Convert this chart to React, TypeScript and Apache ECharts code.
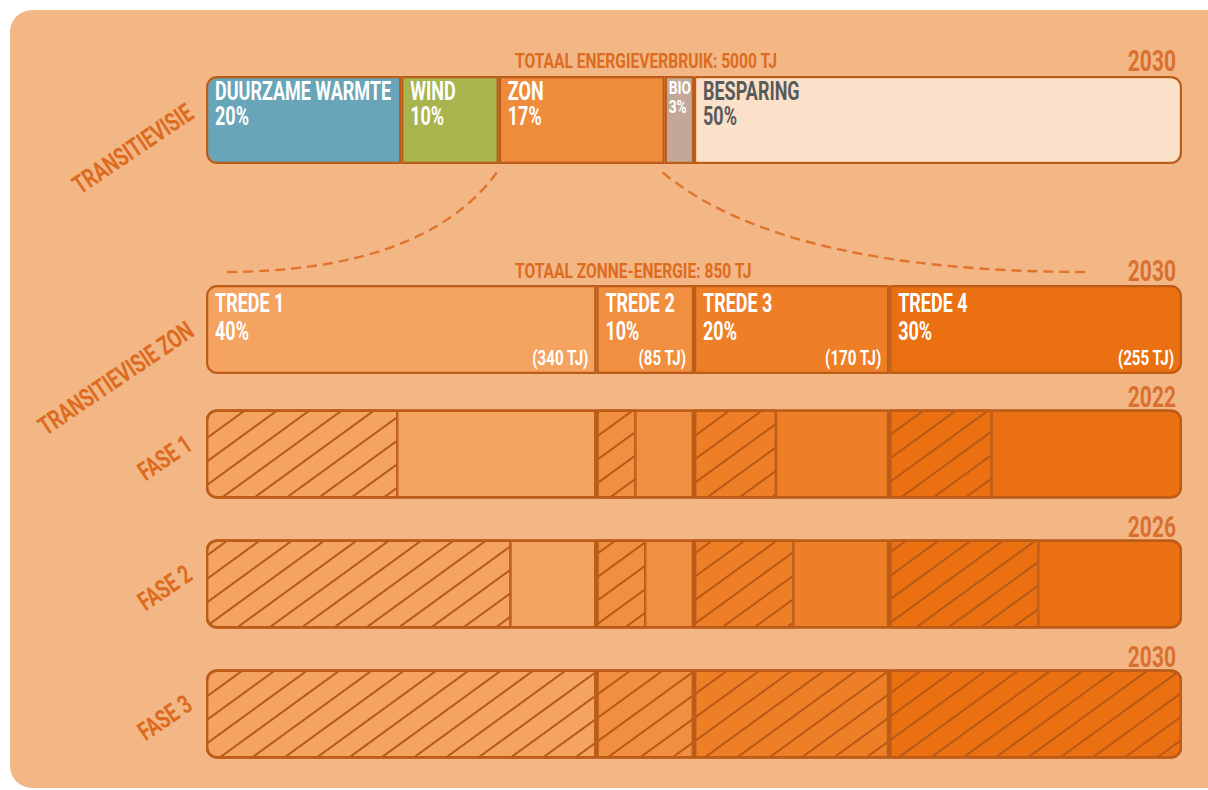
import React, { useEffect, useRef } from 'react';
import * as echarts from 'echarts';

// ---------- data ----------
const energyCategories = ['DUURZAME WARMTE', 'WIND', 'ZON', 'BIO', 'BESPARING'];
const energyShares = [20, 10, 17, 3, 50];
const totalEnergyTJ = 5000;
const visionYear = '2030';

const tredeNames = ['TREDE 1', 'TREDE 2', 'TREDE 3', 'TREDE 4'];
const tredeShares = [40, 10, 20, 30];
const tredeTJ = [340, 85, 170, 255];
const totalSolarTJ = 850;

const phaseNames = ['FASE 1', 'FASE 2', 'FASE 3'];
const phaseYears = ['2022', '2026', '2030'];
// share (%) of each trede realised at the end of the phase
const fase1Done = [49, 40, 42, 35];
const fase2Done = [78, 50, 51, 51];
const fase3Done = [100, 100, 100, 100];
const phaseDone = [fase1Done, fase2Done, fase3Done];

// ---------- style ----------
const FONT = "Roboto, 'Liberation Sans', sans-serif";
const SX = 0.72; // horizontal condensing of the bold font
const BORDER = '#BD5C19';
const PANEL = '#F2B785';
const ORANGE_TEXT = '#DD6B20';
const YEAR_TEXT = '#DA7030';
const energyColors = ['#68A5B8', '#A8B54F', '#EE8C3B', '#C3A899', '#FCE1CA'];
const energyLabelColors = ['#FFFFFF', '#FFFFFF', '#FFFFFF', '#FFFFFF', '#5A5A5A'];
const tredeColors = ['#F4A361', '#F18F40', '#EE7F27', '#EA7011'];
const HATCH = '#B75815';

const GRID_LEFT = 206;
const GRID_WIDTH = 976;
const BAR_H = 89;

function radiusFor(i: number, n: number): any {
  if (i === 0) return [10, 0, 0, 10];
  if (i === n - 1) return [0, 10, 10, 0];
  return 0;
}

function buildOption() {
  const series: any[] = [];

  // top bar: total energy vision
  energyCategories.forEach((name, i) => {
    series.push({
      type: 'bar',
      name,
      xAxisIndex: 0,
      yAxisIndex: 0,
      stack: 'energy',
      barWidth: BAR_H - 1,
      silent: true,
      data: [{ value: energyShares[i], itemStyle: { borderRadius: radiusFor(i, energyCategories.length) } }],
      itemStyle: { color: energyColors[i], borderColor: BORDER, borderWidth: 2.2 },
    });
  });

  // solar vision row
  tredeNames.forEach((name, i) => {
    series.push({
      type: 'bar',
      name,
      xAxisIndex: 1,
      yAxisIndex: 1,
      stack: 'zon',
      barWidth: BAR_H,
      silent: true,
      data: [{ value: tredeShares[i], itemStyle: { borderRadius: radiusFor(i, tredeNames.length) } }],
      itemStyle: { color: tredeColors[i], borderColor: BORDER, borderWidth: 2.2 },
    });
  });

  // phases
  const n = tredeNames.length;
  tredeNames.forEach((name, k) => {
    series.push({
      type: 'bar',
      name: name + ' gerealiseerd',
      xAxisIndex: 2,
      yAxisIndex: 2,
      stack: 'fase',
      barWidth: BAR_H,
      barGap: '-100%',
      silent: true,
      data: phaseDone.map((p) => {
        const v = (tredeShares[k] * p[k]) / 100;
        const isLast = k === n - 1 && p[k] >= 100;
        return {
          value: v,
          itemStyle: { borderRadius: k === 0 ? [10, 0, 0, 10] : isLast ? [0, 10, 10, 0] : 0 },
        };
      }),
      itemStyle: {
        color: tredeColors[k],
        borderColor: BORDER,
        borderWidth: 1.2,
        decal: {
          symbol: 'rect',
          symbolSize: 1,
          dashArrayX: [1, 0],
          dashArrayY: [2, 17],
          rotation: (-36 * Math.PI) / 180,
          color: HATCH,
        },
      },
    });
    series.push({
      type: 'bar',
      name: name + ' resterend',
      xAxisIndex: 2,
      yAxisIndex: 2,
      stack: 'fase',
      barWidth: BAR_H,
      barGap: '-100%',
      silent: true,
      data: phaseDone.map((p) => {
        const v = (tredeShares[k] * (100 - p[k])) / 100;
        if (v <= 0) return null;
        return { value: v, itemStyle: { borderRadius: k === n - 1 ? [0, 10, 10, 0] : 0 } };
      }),
      itemStyle: { color: tredeColors[k], borderColor: BORDER, borderWidth: 1.2 },
    });
  });
  tredeNames.forEach((name, k) => {
    series.push({
      type: 'bar',
      name: name + ' kader',
      xAxisIndex: 2,
      yAxisIndex: 2,
      stack: 'kader',
      barWidth: BAR_H,
      barGap: '-100%',
      silent: true,
      data: phaseDone.map(() => ({ value: tredeShares[k], itemStyle: { borderRadius: radiusFor(k, n) } })),
      itemStyle: { color: 'rgba(0,0,0,0)', borderColor: BORDER, borderWidth: 2.4 },
    });
  });

  const xAxis = [0, 1, 2].map((g) => ({ type: 'value', gridIndex: g, min: 0, max: 100, show: false }));
  const yAxis = [
    { type: 'category', gridIndex: 0, data: ['TRANSITIEVISIE'], show: false },
    { type: 'category', gridIndex: 1, data: ['TRANSITIEVISIE ZON'], show: false },
    { type: 'category', gridIndex: 2, data: phaseNames, inverse: true, show: false },
  ];
  const grid = [
    { left: GRID_LEFT, width: GRID_WIDTH, top: 76, height: 88 },
    { left: GRID_LEFT, width: GRID_WIDTH, top: 285, height: 89 },
    { left: GRID_LEFT, width: GRID_WIDTH, top: 389, height: 390 },
  ];

  return {
    animation: false,
    backgroundColor: '#FFFFFF',
    grid,
    xAxis,
    yAxis,
    series,
  };
}

let measureCtx: CanvasRenderingContext2D | null = null;
function measure(text: string, size: number): number {
  if (!measureCtx) measureCtx = document.createElement('canvas').getContext('2d');
  if (!measureCtx) return text.length * size * 0.6;
  measureCtx.font = `bold ${size}px ${FONT}`;
  return measureCtx.measureText(text).width;
}

function textEl(text: string, x: number, y: number, opts: any = {}) {
  const size = opts.size || 18;
  return {
    type: 'text',
    x,
    y,
    z: 100,
    rotation: opts.rotation || 0,
    scaleX: opts.scaleX || SX,
    silent: true,
    style: {
      text,
      fill: opts.color || ORANGE_TEXT,
      font: `bold ${size}px ${FONT}`,
      lineHeight: opts.lineHeight || size,
      align: opts.align || 'left',
      verticalAlign: opts.vAlign || 'middle',
    },
  };
}

export default function App() {
  const ref = useRef<HTMLDivElement>(null);
  useEffect(() => {
    if (!ref.current) return;
    const chart = echarts.init(ref.current, undefined, { renderer: 'svg' });
    chart.setOption(buildOption());

    const px = (axis: number, v: number) => chart.convertToPixel({ xAxisIndex: axis }, v) as number;
    const py = (axis: number, i: number) => chart.convertToPixel({ yAxisIndex: axis }, i) as number;

    const topCenter = py(0, 0);
    const zonCenter = py(1, 0);
    const phaseCenters = phaseNames.map((_, i) => py(2, i));
    const half = BAR_H / 2;

    const graphic: any[] = [
      {
        type: 'rect',
        z: -10,
        silent: true,
        shape: { x: 10, y: 10, width: 1230, height: 778, r: 22 },
        style: { fill: PANEL },
      },
    ];

    // segment labels of the top bar
    const LABEL_SIZE = 25;
    let cum = 0;
    energyCategories.forEach((name, i) => {
      const x0 = px(0, cum);
      const x1 = px(0, cum + energyShares[i]);
      cum += energyShares[i];
      const lines = [name, `${energyShares[i]}%`];
      const nat = Math.max(...lines.map((l) => measure(l, LABEL_SIZE))) * SX;
      let size = LABEL_SIZE;
      let pad = 9;
      if (nat + 2 * pad > x1 - x0) {
        pad = 4;
        size = LABEL_SIZE * Math.min(1, (x1 - x0 - 7) / nat);
      }
      graphic.push(
        textEl(lines.join('\n'), x0 + pad, topCenter - half + 3, {
          size,
          vAlign: 'top',
          lineHeight: 25 * (size / LABEL_SIZE),
          color: energyLabelColors[i],
        })
      );
    });

    // segment labels of the solar row
    cum = 0;
    tredeNames.forEach((name, i) => {
      const x0 = px(1, cum);
      const x1 = px(1, cum + tredeShares[i]);
      cum += tredeShares[i];
      graphic.push(
        textEl(`${name}\n${tredeShares[i]}%`, x0 + 9, zonCenter - half + 4, {
          size: LABEL_SIZE,
          vAlign: 'top',
          lineHeight: 28,
          color: '#FFFFFF',
        })
      );
      graphic.push(
        textEl(`(${tredeTJ[i]} TJ)`, x1 - 8, zonCenter + half - 16, {
          size: 21,
          align: 'right',
          color: '#FFFFFF',
        })
      );
    });

    // titles and years
    graphic.push(
      textEl(`TOTAAL ENERGIEVERBRUIK: ${totalEnergyTJ} TJ`, 515, topCenter - 59, { size: 20, scaleX: 0.78 }),
      textEl(visionYear, 1176, topCenter - 59, { size: 30, align: 'right', color: YEAR_TEXT, scaleX: 0.7 }),
      textEl(`TOTAAL ZONNE-ENERGIE: ${totalSolarTJ} TJ`, 515, zonCenter - 59, { size: 20, scaleX: 0.78 }),
      textEl(visionYear, 1176, zonCenter - 59, { size: 30, align: 'right', color: YEAR_TEXT, scaleX: 0.7 }),
      ...phaseYears.map((yr, i) =>
        textEl(yr, 1176, phaseCenters[i] - 57, { size: 30, align: 'right', color: YEAR_TEXT, scaleX: 0.7 })
      )
    );

    // rotated row names
    const rot = (34 * Math.PI) / 180;
    graphic.push(
      textEl('TRANSITIEVISIE', 133, topCenter + 29, { size: 26, align: 'center', rotation: rot }),
      textEl('TRANSITIEVISIE ZON', 116, zonCenter + 49, { size: 26, align: 'center', rotation: rot }),
      ...phaseNames.map((nm, i) =>
        textEl(nm, 165, phaseCenters[i] + 4, { size: 26, align: 'center', rotation: rot })
      )
    );

    // dashed connectors from the ZON segment to the solar row
    const zonIndex = energyCategories.indexOf('ZON');
    const zonStart = energyShares.slice(0, zonIndex).reduce((a, b) => a + b, 0);
    const zonEnd = zonStart + energyShares[zonIndex];
    const xL = px(0, zonStart);
    const xR = px(0, zonEnd);
    const y0 = topCenter + half + 8;
    const y1 = zonCenter - half - 13;
    graphic.push(
      {
        type: 'bezierCurve',
        z: 50,
        silent: true,
        shape: { x1: xL - 2, y1: y0, cpx1: xL - 75, cpy1: y1, x2: 222, y2: y1 },
        style: { stroke: '#E0742C', lineWidth: 2.4, lineDash: [10, 6], fill: null },
      },
      {
        type: 'bezierCurve',
        z: 50,
        silent: true,
        shape: { x1: xR - 2, y1: y0, cpx1: xR + 118, cpy1: y1, x2: 1088, y2: y1 },
        style: { stroke: '#E0742C', lineWidth: 2.4, lineDash: [10, 6], fill: null },
      }
    );

    chart.setOption({ graphic });

    return () => {
      chart.dispose();
    };
  }, []);

  return (
    <div
      ref={ref}
      style={{ position: 'absolute', left: 0, top: 0, width: 1208, height: 790 }}
    />
  );
}
